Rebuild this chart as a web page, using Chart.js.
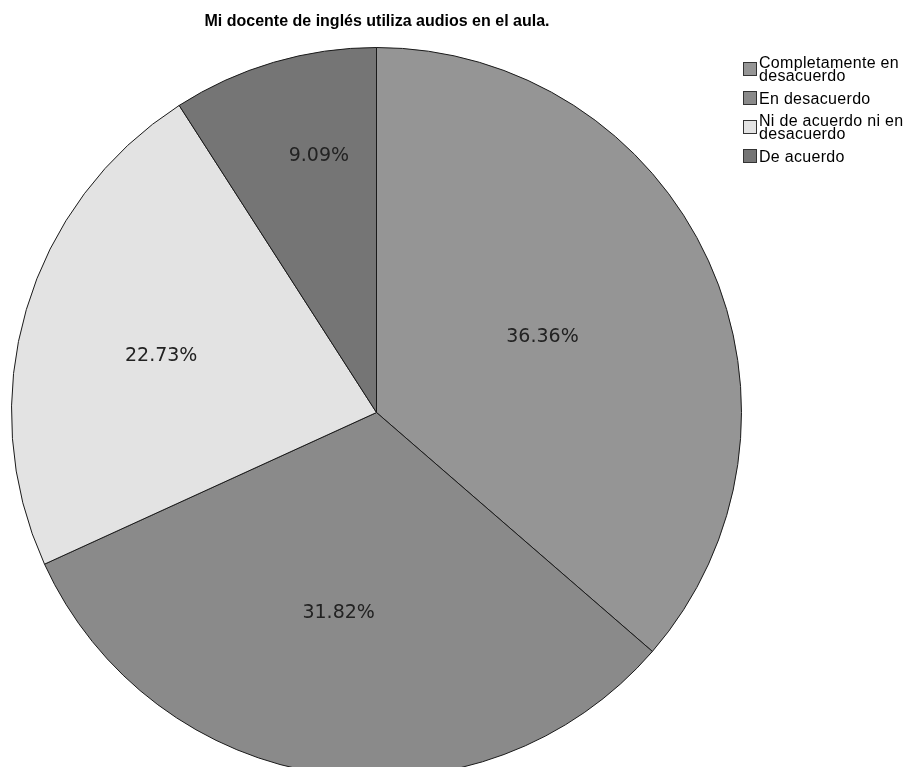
<!DOCTYPE html>
<html>
<head>
<meta charset="utf-8">
<script src="https://cdn.jsdelivr.net/npm/chart.js@4.4.0/dist/chart.umd.min.js"></script>
<style>
  html, body { margin: 0; padding: 0; background: #fff; overflow: hidden; }
  #wrap { position: relative; width: 911px; height: 767px; overflow: hidden; }
  #chart { position: absolute; left: 0; top: 0; }
  #title { position: absolute; left: 0; width: 754px; top: 12px; text-align: center;
           font: bold 16px "Liberation Sans", Arial, sans-serif; color: #000; }
  #legend { position: absolute; left: 743px; top: 56px; letter-spacing: 0.3px;
            font: 16px "Liberation Sans", Arial, sans-serif; color: #000; }
  .item { display: flex; align-items: center; margin-bottom: 9px; line-height: 13px; }
  .sw { width: 14px; height: 14px; border: 1px solid #333; box-sizing: border-box; margin-right: 2px; flex: none; }
</style>
</head>
<body>
<div id="wrap">
  <canvas id="chart" width="911" height="778"></canvas>
  <div id="title">Mi docente de inglés utiliza audios en el aula.</div>
  <div id="legend"></div>
</div>
<script>
// categorías y porcentajes
const categories = [
  ['Completamente en', 'desacuerdo'],
  ['En desacuerdo'],
  ['Ni de acuerdo ni en', 'desacuerdo'],
  ['De acuerdo']
];
const values = [36.36, 31.82, 22.73, 9.09];
const colors = ['#959595', '#8a8a8a', '#e3e3e3', '#757575'];
// colocación de las etiquetas: fracción del radio y giro (grados) respecto al centro del sector
const labelRadius = [0.50, 0.56, 0.61, 0.72];
const labelTurn = [0, 2.5, -1.6, 3.7];

// leyenda a la derecha
const legend = document.getElementById('legend');
categories.forEach((lines, i) => {
  const item = document.createElement('div');
  item.className = 'item';
  const sw = document.createElement('div');
  sw.className = 'sw';
  sw.style.background = colors[i];
  const txt = document.createElement('div');
  txt.innerHTML = lines.join('<br>');
  item.appendChild(sw);
  item.appendChild(txt);
  legend.appendChild(item);
});

// etiquetas de porcentaje dentro de cada sector
const pctLabels = {
  id: 'pctLabels',
  afterDatasetsDraw(chart) {
    const ctx = chart.ctx;
    const meta = chart.getDatasetMeta(0);
    ctx.save();
    ctx.font = '19px "DejaVu Sans"';
    ctx.fillStyle = '#222';
    ctx.textAlign = 'center';
    ctx.textBaseline = 'middle';
    meta.data.forEach((arc, i) => {
      const p = arc.getProps(['x', 'y', 'startAngle', 'endAngle', 'outerRadius'], true);
      const mid = (p.startAngle + p.endAngle) / 2 + labelTurn[i] * Math.PI / 180;
      const r = p.outerRadius * labelRadius[i];
      ctx.fillText(values[i].toFixed(2) + '%', p.x + Math.cos(mid) * r, p.y + Math.sin(mid) * r);
    });
    ctx.restore();
  }
};

const ctx = document.getElementById('chart').getContext('2d');
new Chart(ctx, {
  type: 'pie',
  data: {
    labels: categories.map(l => l.join(' ')),
    datasets: [{
      data: values,
      backgroundColor: colors,
      borderColor: '#1a1a1a',
      borderWidth: 1,
      hoverOffset: 0,
      offset: 0
    }]
  },
  options: {
    responsive: false,
    devicePixelRatio: 1,
    animation: false,
    layout: { padding: { left: 11, top: 47, right: 169, bottom: 0 } },
    plugins: {
      legend: { display: false },
      title: { display: false },
      tooltip: { enabled: false }
    }
  },
  plugins: [pctLabels]
});
</script>
</body>
</html>
